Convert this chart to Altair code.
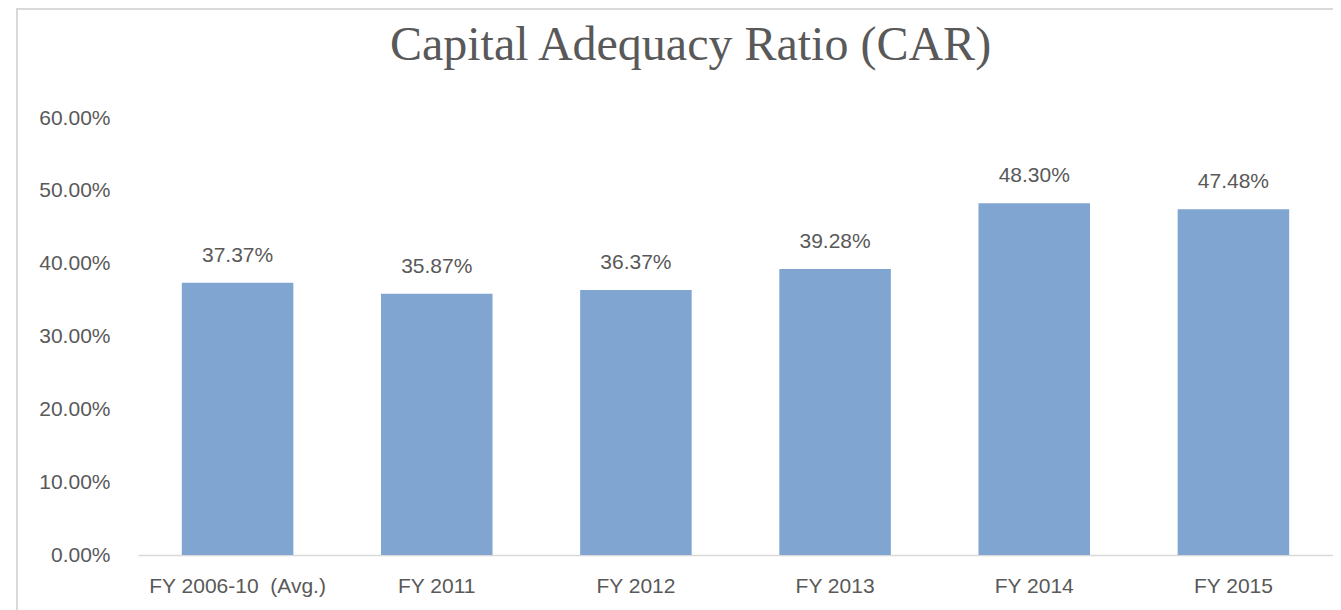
import altair as alt
import pandas as pd

categories = ["FY 2006-10\u00a0 (Avg.)", "FY 2011", "FY 2012", "FY 2013", "FY 2014", "FY 2015"]
values = [0.3737, 0.3587, 0.3637, 0.3928, 0.4830, 0.4748]
y_ticks = [0, 0.1, 0.2, 0.3, 0.4, 0.5, 0.6]

df = pd.DataFrame({"cat": categories, "val": values})

GRAY = "#595959"
FONT = "Liberation Sans"

x = alt.X("cat:N", sort=categories, title=None,
          scale=alt.Scale(paddingInner=0.44, paddingOuter=0.22),
          axis=alt.Axis(labelAngle=0, labelFontSize=21, labelColor=GRAY, labelFont=FONT,
                        domainColor="#D9D9D9", domainWidth=1.5, ticks=False, labelPadding=20))
y = alt.Y("val:Q", title=None,
          scale=alt.Scale(domain=[0, 0.6], nice=False),
          axis=alt.Axis(values=y_ticks, format=".2%", grid=False, domain=False, ticks=False,
                        labelFontSize=21, labelColor=GRAY, labelFont=FONT, labelPadding=28))

bars = alt.Chart(df).mark_bar(color="#81A5D1").encode(x=x, y=y)
labels = alt.Chart(df).mark_text(baseline="bottom", dy=-17, fontSize=21, color=GRAY, font=FONT).encode(
    x=alt.X("cat:N", sort=categories), y="val:Q", text=alt.Text("val:Q", format=".2%"))

frame_left = alt.Chart(df).mark_rule(color="#D9D9D9", strokeWidth=2).encode(
    x=alt.value(-121), y=alt.value(-110), y2=alt.value(500))
frame_top = alt.Chart(df).mark_rule(color="#D9D9D9", strokeWidth=2).encode(
    x=alt.value(-121), x2=alt.value(1200), y=alt.value(-109))

chart = alt.layer(bars, labels, frame_left, frame_top).properties(
    width=1195, height=437,
    padding={"left": 130, "top": 110, "right": 0, "bottom": 55},
    autosize=alt.AutoSizeParams(type="none"),
    title=alt.TitleParams("Capital Adequacy Ratio (CAR)", font="Liberation Serif", fontSize=48,
                          fontWeight="normal", color=GRAY, anchor="middle", dx=-45, offset=-63),
).configure_view(stroke=None)

chart.save("out.html", embed_options={"renderer": "svg", "actions": False})
